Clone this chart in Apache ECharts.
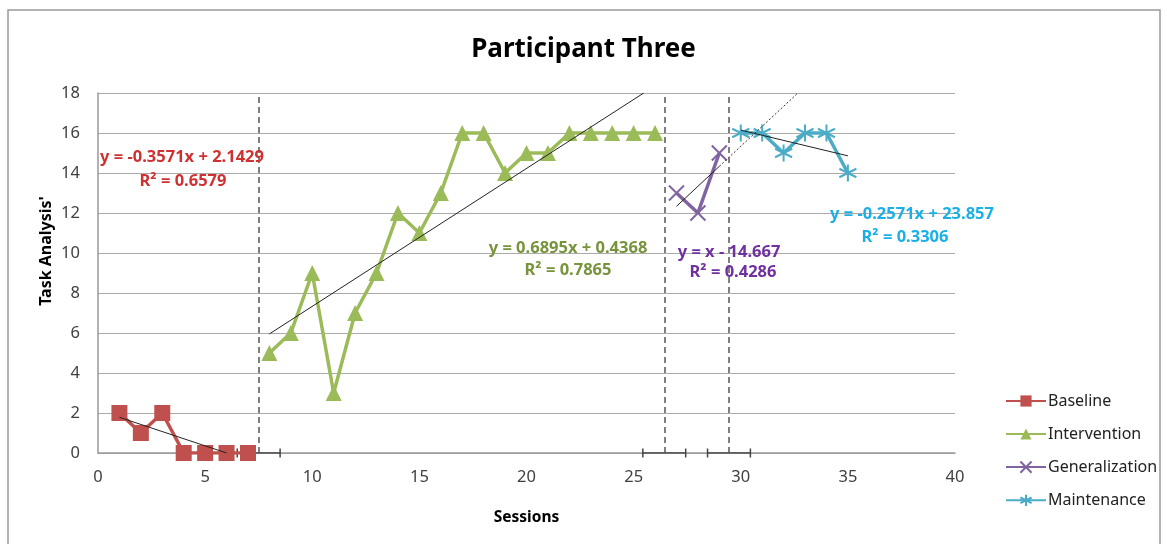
<!DOCTYPE html>
<html>
<head>
<meta charset="utf-8">
<script src="https://cdn.jsdelivr.net/npm/echarts@6/dist/echarts.min.js"></script>
<style>
html,body{margin:0;padding:0;background:#fff;}
#main{width:1167px;height:544px;}
</style>
</head>
<body>
<div id="main"></div>
<script>
// phases: [session, score]
const baseline = [[1, 2], [2, 1], [3, 2], [4, 0], [5, 0], [6, 0], [7, 0]];
const intervention = [[8, 5], [9, 6], [10, 9], [11, 3], [12, 7], [13, 9], [14, 12], [15, 11], [16, 13], [17, 16], [18, 16], [19, 14], [20, 15], [21, 15], [22, 16], [23, 16], [24, 16], [25, 16], [26, 16]];
const generalization = [[27, 13], [28, 12], [29, 15]];
const maintenance = [[30, 16], [31, 16], [32, 15], [33, 16], [34, 16], [35, 14]];

// linear trendlines (slope, intercept) and the x range they are drawn over
const trends = [
  { a: -0.3571, b: 2.1429, from: 1, to: 6, r2: '0.6579' },
  { a: 0.6895, b: 0.4368, from: 8, to: 25.47, r2: '0.7865' },
  { a: 1, b: -14.667, from: 27, to: 29, r2: '0.4286' },
  { a: -0.2571, b: 23.857, from: 30, to: 35, r2: '0.3306' }
];
const genForecastTo = 32.667;

const phaseLines = [7.5, 26.43, 29.45];

const colors = ['#C0504D', '#9BBB59', '#8064A2', '#4BACC6'];
const labelColors = ['#D03030', '#77933C', '#7030A0', '#1AAFE6'];
const font = '"Noto Sans", "Open Sans", sans-serif';

function trendData(t, from, to) {
  return [[from, t.a * from + t.b], [to, t.a * to + t.b]];
}

const crossSym = 'path://M0,0L10,10M10,0L0,10';
const starSym = 'path://M5,0L5,10M0.7,2.5L9.3,7.5M9.3,2.5L0.7,7.5';

function phase(name, data, i, symbol, size, extra) {
  return Object.assign({
    name: name,
    type: 'line',
    data: data,
    symbol: symbol,
    symbolSize: size,
    z: 3,
    lineStyle: { color: colors[i], width: 3.5 },
    itemStyle: { color: colors[i], borderColor: colors[i], borderWidth: 0 }
  }, extra || {});
}

const series = [
  phase('Baseline', baseline, 0, 'rect', 16),
  phase('Intervention', intervention, 1, 'triangle', 16),
  phase('Generalization', generalization, 2, crossSym, 15, {
    itemStyle: { color: 'none', borderColor: colors[2], borderWidth: 2 }
  }),
  phase('Maintenance', maintenance, 3, starSym, 17, {
    itemStyle: { color: 'none', borderColor: colors[3], borderWidth: 2 }
  })
];

trends.forEach(function (t) {
  series.push({
    type: 'line', data: trendData(t, t.from, t.to), symbol: 'none', z: 4,
    silent: true, lineStyle: { color: '#222', width: 1 }
  });
});
series.push({
  type: 'line', data: trendData(trends[2], trends[2].to, genForecastTo), symbol: 'none', z: 4,
  silent: true, lineStyle: { color: '#333', width: 1, type: [2, 2] }
});

// phase change lines with their small end ticks on the axis
series.push({
  type: 'line', data: [], silent: true,
  markLine: {
    silent: true, symbol: 'none', label: { show: false },
    lineStyle: { color: '#555', width: 1.5, type: [6, 4] },
    data: phaseLines.map(function (x) { return { xAxis: x }; })
  }
});
phaseLines.forEach(function (x) {
  series.push({
    type: 'line', data: [[x - 1, 0], [x + 1, 0]], z: 2, silent: true,
    symbol: 'rect', symbolSize: [1.5, 9],
    lineStyle: { color: '#444', width: 1.5 }, itemStyle: { color: '#444' }
  });
});

const eqs = [
  { x: 182, y: 157, txt: 'y = -0.3571x + 2.1429' },
  { x: 568, y: 248, txt: 'y = 0.6895x + 0.4368' },
  { x: 729, y: 252, txt: 'y = x - 14.667' },
  { x: 912, y: 214, txt: 'y = -0.2571x + 23.857' }
];
const r2pos = [[183, 181], [568, 270], [733, 272], [905, 237]];

const graphic = [{
  type: 'rect', shape: { x: 8, y: 10, width: 1152, height: 540 },
  style: { fill: 'none', stroke: '#999', lineWidth: 1.5 }, z: -10
}, {
  type: 'text', x: 46, y: 251, rotation: Math.PI / 2,
  style: { text: "Task Analysis'", fill: '#000', font: 'bold 16px ' + font, align: 'center', verticalAlign: 'middle' }
}];
eqs.forEach(function (e, i) {
  graphic.push({
    type: 'text', x: e.x, y: e.y, z: 10,
    style: { text: e.txt, fill: labelColors[i], font: 'bold 16.5px ' + font, align: 'center', verticalAlign: 'middle' }
  });
  graphic.push({
    type: 'text', x: r2pos[i][0], y: r2pos[i][1], z: 10,
    style: { text: 'R² = ' + trends[i].r2, fill: labelColors[i], font: 'bold 16.5px ' + font, align: 'center', verticalAlign: 'middle' }
  });
});

const chart = echarts.init(document.getElementById('main'), null, { renderer: 'canvas' });
chart.setOption({
  animation: false,
  backgroundColor: '#fff',
  title: {
    text: 'Participant Three', left: 'center', top: 32,
    textStyle: { fontFamily: font, fontSize: 26, fontWeight: 'bold', color: '#000' }
  },
  grid: { left: 98, right: 212, top: 93, bottom: 91 },
  legend: {
    orient: 'vertical', left: 1000, top: 388, itemGap: 17,
    itemWidth: 40, itemHeight: 14,
    data: ['Baseline', 'Intervention', 'Generalization', 'Maintenance'],
    textStyle: { fontFamily: font, fontSize: 16, color: '#222', padding: [0, 0, 0, -3] }
  },
  xAxis: {
    type: 'value', min: 0, max: 40, interval: 5,
    name: 'Sessions', nameLocation: 'middle', nameGap: 57,
    nameTextStyle: { fontFamily: font, fontSize: 15.5, fontWeight: 'bold', color: '#000' },
    axisLine: { lineStyle: { color: '#999', width: 1.5 } },
    axisTick: { show: false },
    axisLabel: { fontFamily: font, fontSize: 16.5, color: '#404040', margin: 16 },
    splitLine: { show: false }
  },
  yAxis: {
    type: 'value', min: 0, max: 18, interval: 2,
    axisLine: { show: true, lineStyle: { color: '#999', width: 1.5 } },
    axisTick: { show: false },
    axisLabel: { fontFamily: font, fontSize: 16.5, color: '#404040', margin: 18 },
    splitLine: { lineStyle: { color: '#aaa', width: 1.2 } }
  },
  graphic: graphic,
  series: series
});
</script>
</body>
</html>
